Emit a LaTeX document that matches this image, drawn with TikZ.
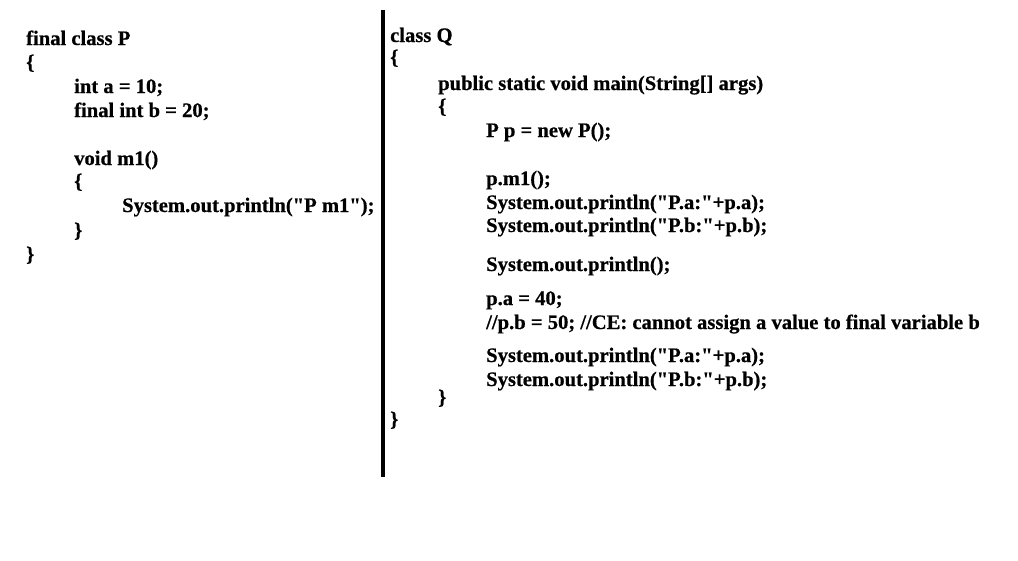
\documentclass[tikz,border=0pt]{standalone}
\usepackage{fontspec}
\setmainfont{Liberation Serif}[BoldFeatures={FakeBold=0.6}]
\newcommand\qt{\textquotedbl}
\tikzset{code/.style={anchor=base west,inner sep=0pt,font=\fontsize{20.6}{24}\selectfont\bfseries}}
\begin{document}
\begin{tikzpicture}[x=1pt,y=-1pt]
        \useasboundingbox[fill=white] (0,0) rectangle (1018,560);
        %% divider
        \draw[line width=4pt] (383,10) -- (383,477);
        %% class P
        \node[code] (pHead) at (26,45) {final class P};
        \node[code] (pOpen) at (26,69) {\{};
        \node[code] (pA) at (74,93) {int a = 10;};
        \node[code] (pB) at (74,117) {final int b = 20;};
        \node[code] (mHead) at (74,165) {void m1()};
        \node[code] (mOpen) at (74,188) {\{};
        \node[code] (mBody) at (122,212) {System.out.println(\qt P m1\qt);};
        \node[code] (mClose) at (74,237) {\}};
        \node[code] (pClose) at (26,261) {\}};
        %% class Q
        \node[code] (qHead) at (390,42) {class Q};
        \node[code] (qOpen) at (390,64) {\{};
        \node[code] (mainHead) at (438,90) {public static void main(String[] args)};
        \node[code] (mainOpen) at (438,113) {\{};
        \node[code] (newP) at (486,137) {P p = new P();};
        \node[code] (callM) at (486,185) {p.m1();};
        \node[code] (outA) at (486,209) {System.out.println(\qt P.a:\qt+p.a);};
        \node[code] (outB) at (486,232) {System.out.println(\qt P.b:\qt+p.b);};
        \node[code] (outNl) at (486,271) {System.out.println();};
        \node[code] (setA) at (486,305) {p.a = 40;};
        \node[code] (setB) at (486,329) {//p.b = 50; //CE: cannot assign a value to final variable b};
        \node[code] (outA2) at (486,362) {System.out.println(\qt P.a:\qt+p.a);};
        \node[code] (outB2) at (486,386) {System.out.println(\qt P.b:\qt+p.b);};
        \node[code] (mainClose) at (438,404) {\}};
        \node[code] (qClose) at (390,426) {\}};
\end{tikzpicture}
\end{document}
